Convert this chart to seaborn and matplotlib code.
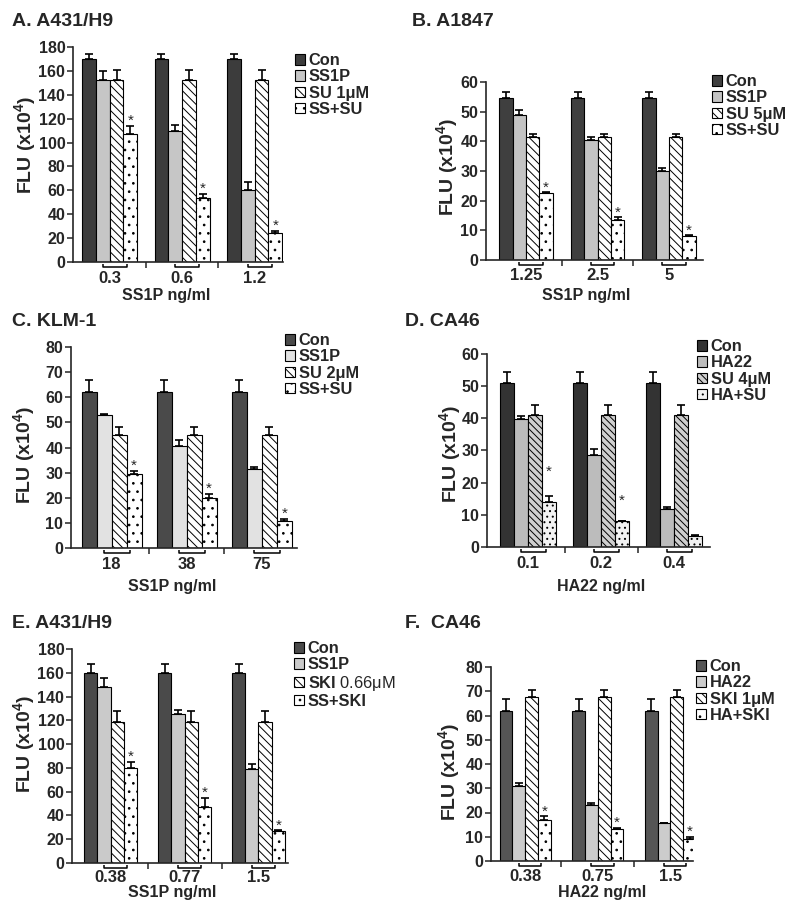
import matplotlib
matplotlib.use("Agg")
import matplotlib.pyplot as plt
import pandas as pd
import seaborn as sns

# ---------------- data ----------------
A_title = "A. A431/H9"
A_doses = ["0.3", "0.6", "1.2"]
A_treat = ["Con", "SS1P", "SU 1μM", "SS+SU"]
A_con = [170, 170, 170]
A_drug1 = [152, 110, 60]
A_drug2 = [152, 152, 152]
A_combo = [107, 54, 24]
A_err = [[4, 4, 4], [8, 5, 7], [9, 9, 9], [7, 3, 2]]
A_xlabel = "SS1P ng/ml"
A_yticks = [0, 20, 40, 60, 80, 100, 120, 140, 160, 180]
A_stars = [None, None, None]

B_title = "B. A1847"
B_doses = ["1.25", "2.5", "5"]
B_treat = ["Con", "SS1P", "SU 5μM", "SS+SU"]
B_con = [54.5, 54.5, 54.5]
B_drug1 = [48.8, 40.3, 30.0]
B_drug2 = [41.5, 41.5, 41.5]
B_combo = [22.7, 13.5, 8.0]
B_err = [[2, 2, 2], [1.8, 1.3, 1.0], [1.0, 1.0, 1.0], [0.2, 1.0, 0.3]]
B_xlabel = "SS1P ng/ml"
B_yticks = [0, 10, 20, 30, 40, 50, 60]
B_stars = [None, None, None]

C_title = "C. KLM-1"
C_doses = ["18", "38", "75"]
C_treat = ["Con", "SS1P", "SU 2μM", "SS+SU"]
C_con = [62, 62, 62]
C_drug1 = [53, 40.5, 31.5]
C_drug2 = [45, 45, 45]
C_combo = [29.5, 19.8, 10.8]
C_err = [[5, 5, 5], [0.3, 2.3, 0.8], [3, 3, 3], [1.2, 1.8, 0.9]]
C_xlabel = "SS1P ng/ml"
C_yticks = [0, 10, 20, 30, 40, 50, 60, 70, 80]
C_stars = [None, None, None]

D_title = "D. CA46"
D_doses = ["0.1", "0.2", "0.4"]
D_treat = ["Con", "HA22", "SU 4μM", "HA+SU"]
D_con = [51, 51, 51]
D_drug1 = [39.8, 28.7, 11.7]
D_drug2 = [41, 41, 41]
D_combo = [14, 8, 3.5]
D_err = [[3.5, 3.5, 3.5], [1.0, 1.7, 0.8], [3.3, 3.3, 3.3], [1.7, 0.1, 0.3]]
D_xlabel = "HA22 ng/ml"
D_yticks = [0, 10, 20, 30, 40, 50, 60]
D_stars = [22.0, 13.0, "none"]

E_title = "E. A431/H9"
E_doses = ["0.38", "0.77", "1.5"]
E_treat = ["Con", "SS1P", "$\\mathbf{SKI}$ 0.66μM", "SS+SKI"]
E_con = [159.5, 159.5, 159.5]
E_drug1 = [148, 125, 79]
E_drug2 = [119, 119, 119]
E_combo = [80, 47, 27]
E_err = [[7.5, 7.5, 7.5], [8, 4, 4], [9, 9, 9], [5, 8, 0.5]]
E_xlabel = "SS1P ng/ml"
E_yticks = [0, 20, 40, 60, 80, 100, 120, 140, 160, 180]
E_stars = [None, None, None]

F_title = "F.  CA46"
F_doses = ["0.38", "0.75", "1.5"]
F_treat = ["Con", "HA22", "SKI 1μM", "HA+SKI"]
F_con = [61.7, 61.7, 61.7]
F_drug1 = [31, 23, 15.5]
F_drug2 = [67.5, 67.5, 67.5]
F_combo = [16.8, 13.3, 9.0]
F_err = [[5, 5, 5], [1.0, 1.0, 0.1], [3, 3, 3], [1.7, 0.5, 1.0]]
F_xlabel = "HA22 ng/ml"
F_yticks = [0, 10, 20, 30, 40, 50, 60, 70, 80]
F_stars = [None, None, None]

# ---------------- style ----------------
sns.set_style("ticks")
plt.rcParams["font.family"] = ["Liberation Sans", "DejaVu Sans"]
plt.rcParams["font.weight"] = "bold"
plt.rcParams["mathtext.fontset"] = "custom"
plt.rcParams["mathtext.rm"] = "Liberation Sans:bold"
plt.rcParams["mathtext.bf"] = "Liberation Sans:bold"
plt.rcParams["mathtext.it"] = "Liberation Sans:bold:italic"
plt.rcParams["hatch.linewidth"] = 0.7

W, H = 800, 917
fig = plt.figure(figsize=(W / 100, H / 100), dpi=100)


def fx(x):
    return x / W


def fy(y):
    return 1 - y / H


panels = [
    dict(t=A_title, doses=A_doses, treat=A_treat, vals=[A_con, A_drug1, A_drug2, A_combo], err=A_err,
         xl=A_xlabel, yt=A_yticks, stars=A_stars,
         box=(73, 47, 283, 262), xlim=(-0.505, 2.39), width=0.76, pad=6.4,
         colors=["#3c3c3c", "#c6c6c6", "white", "white"], hatch2="\\\\\\\\", dots="..",
         title_xy=(12, 22), leg_xy=(295, 53), ylab_xy=(25, 145), xlab_xy=(166, 295)),
    dict(t=B_title, doses=B_doses, treat=B_treat, vals=[B_con, B_drug1, B_drug2, B_combo], err=B_err,
         xl=B_xlabel, yt=B_yticks, stars=B_stars,
         box=(486, 82, 703, 260), xlim=(-0.56, 2.475), width=0.745, pad=6.0,
         colors=["#3f3f3f", "#c4c4c4", "white", "white"], hatch2="\\\\\\\\", dots="..",
         title_xy=(412, 22), leg_xy=(712, 74), ylab_xy=(447, 167), xlab_xy=(586, 295)),
    dict(t=C_title, doses=C_doses, treat=C_treat, vals=[C_con, C_drug1, C_drug2, C_combo], err=C_err,
         xl=C_xlabel, yt=C_yticks, stars=C_stars,
         box=(71, 347, 297, 548), xlim=(-0.54, 2.47), width=0.8, pad=6.4,
         colors=["#4a4a4a", "#e2e2e2", "white", "white"], hatch2="\\\\\\\\", dots="..",
         title_xy=(12, 322), leg_xy=(285, 333), ylab_xy=(24, 455), xlab_xy=(172, 586)),
    dict(t=D_title, doses=D_doses, treat=D_treat, vals=[D_con, D_drug1, D_drug2, D_combo], err=D_err,
         xl=D_xlabel, yt=D_yticks, stars=D_stars,
         box=(487, 354, 710, 547), xlim=(-0.56, 2.49), width=0.77, pad=6.6,
         colors=["#333333", "#bcbcbc", "#cfcfcf", "#f2f2f2"], hatch2="\\\\\\\\\\", dots="...",
         title_xy=(405, 322), leg_xy=(697, 339), ylab_xy=(450, 454), xlab_xy=(601, 586)),
    dict(t=E_title, doses=E_doses, treat=E_treat, vals=[E_con, E_drug1, E_drug2, E_combo], err=E_err,
         xl=E_xlabel, yt=E_yticks, stars=E_stars,
         box=(72, 649, 288, 863), xlim=(-0.525, 2.40), width=0.72, pad=5.0,
         colors=["#4a4a4a", "#cacaca", "white", "white"], hatch2="\\\\\\\\", dots="..",
         title_xy=(12, 624), leg_xy=(294, 641), ylab_xy=(24, 744), xlab_xy=(172, 893)),
    dict(t=F_title, doses=F_doses, treat=F_treat, vals=[F_con, F_drug1, F_drug2, F_combo], err=F_err,
         xl=F_xlabel, yt=F_yticks, stars=F_stars,
         box=(491, 667, 693, 861), xlim=(-0.47, 2.31), width=0.70, pad=5.6,
         colors=["#555555", "#cccccc", "white", "white"], hatch2="\\\\\\\\", dots="..",
         title_xy=(405, 623), leg_xy=(696, 659), ylab_xy=(449.5, 772), xlab_xy=(602, 893)),
]

for P in panels:
    l, t, r, b = P["box"]
    ax = fig.add_axes([fx(l), fy(b), (r - l) / W, (b - t) / H])
    rows = []
    for ti, tr in enumerate(P["treat"]):
        for di, d in enumerate(P["doses"]):
            rows.append(dict(dose=d, treatment=tr, value=P["vals"][ti][di]))
    df = pd.DataFrame(rows)
    sns.barplot(data=df, x="dose", y="value", hue="treatment", order=P["doses"],
                hue_order=P["treat"], palette=P["colors"], saturation=1, width=P["width"],
                errorbar=None, edgecolor="black", linewidth=0.8, ax=ax, legend=False)
    bars = list(ax.containers)
    hatches = [None, None, P["hatch2"], P["dots"]]
    for ci, cont in enumerate(bars):
        for p in cont.patches:
            p.set_facecolor(P["colors"][ci])
            p.set_edgecolor("black")
            if hatches[ci]:
                p.set_hatch(hatches[ci])
    # error bars (upper only)
    for ci, cont in enumerate(bars):
        xs = [p.get_x() + p.get_width() / 2 for p in cont.patches]
        ys = [p.get_height() for p in cont.patches]
        e = P["err"][ci]
        ax.errorbar(xs, ys, yerr=[[0] * len(e), e], fmt="none", ecolor="black",
                    elinewidth=1.2, capsize=3, capthick=1.2, zorder=1)
    # stars over the combination bars
    combo = bars[3].patches
    for di, p in enumerate(combo):
        s = P["stars"][di]
        if s == "none":
            continue
        x = p.get_x() + p.get_width() / 2
        y = s if s is not None else p.get_height() + P["err"][3][di]
        ax.annotate("*", (x, y), xytext=(0, 0.5), textcoords="offset points",
                    ha="center", va="baseline", fontsize=11, fontweight="normal")
    # brackets under each dose group
    hpx = b - t
    for di in range(len(P["doses"])):
        p1 = bars[1].patches[di]
        p3 = bars[3].patches[di]
        x0 = p1.get_x() + p1.get_width() / 2
        x1 = p3.get_x() + p3.get_width() * 0.25
        yl, yh = -5 / hpx, -1.5 / hpx
        ax.plot([x0, x0, x1, x1], [yh, yl, yl, yh], color="black", lw=1.1,
                transform=ax.get_xaxis_transform(), clip_on=False, solid_capstyle="butt")
    ax.set_xlim(*P["xlim"])
    ax.set_ylim(P["yt"][0], P["yt"][-1])
    ax.set_yticks(P["yt"])
    ax.set_xticks(range(len(P["doses"])))
    ax.set_xticklabels(P["doses"], fontsize=12, fontweight="bold")
    ax.set_xticks([0.5, 1.5], minor=True)
    ax.tick_params(axis="x", which="major", length=0, pad=P["pad"])
    ax.tick_params(axis="x", which="minor", length=4, width=1.1, direction="out")
    ax.tick_params(axis="y", length=4, width=1.1, direction="out", pad=1.5, labelsize=11.5)
    for lab in ax.get_yticklabels():
        lab.set_fontweight("bold")
    sns.despine(ax=ax)
    for sp in ("left", "bottom"):
        ax.spines[sp].set_linewidth(1.2)
    ax.set_ylabel("FLU (x10$^4$)", fontsize=14, fontweight="bold")
    ax.yaxis.label.set_va("center")
    ax.yaxis.set_label_coords(fx(P["ylab_xy"][0]), fy(P["ylab_xy"][1]), transform=fig.transFigure)
    ax.set_xlabel(P["xl"], fontsize=11.5, fontweight="bold")
    ax.xaxis.label.set_va("center")
    ax.xaxis.set_label_coords(fx(P["xlab_xy"][0]), fy(P["xlab_xy"][1]), transform=fig.transFigure)
    fig.text(fx(P["title_xy"][0]), fy(P["title_xy"][1]), P["t"], fontsize=14,
             fontweight="bold", ha="left", va="center")
    handles = [c.patches[0] for c in bars]
    leg = ax.legend(handles, P["treat"], loc="upper left",
                    bbox_to_anchor=(fx(P["leg_xy"][0]), fy(P["leg_xy"][1])),
                    bbox_transform=fig.transFigure, frameon=False, borderpad=0,
                    borderaxespad=0, handlelength=0.62, handleheight=0.62,
                    handletextpad=0.22, labelspacing=0.08,
                    prop=dict(size=11.8, weight="bold"))
    for lh in leg.legend_handles:
        lh.set_linewidth(0.8)
    if "0.66" in P["treat"][2]:
        leg.get_texts()[2].set_fontweight("normal")

fig.savefig("out.png", dpi=100)
